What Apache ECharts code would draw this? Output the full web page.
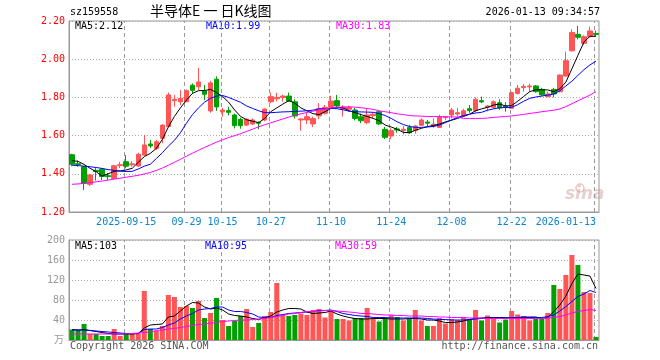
<!DOCTYPE html>
<html><head><meta charset="utf-8">
<script src="https://cdn.jsdelivr.net/npm/echarts@6/dist/echarts.min.js"></script>
<style>html,body{margin:0;padding:0;background:#fff}#c{width:660px;height:360px}</style>
</head><body><div id="c"></div>
<script>
const dates = ['2025-09-02','2025-09-03','2025-09-04','2025-09-05','2025-09-08','2025-09-09','2025-09-10','2025-09-11','2025-09-12',
'2025-09-15','2025-09-16','2025-09-17','2025-09-18','2025-09-19','2025-09-22','2025-09-23','2025-09-24','2025-09-25','2025-09-26',
'2025-09-29','2025-09-30','2025-10-09','2025-10-10','2025-10-13','2025-10-14','2025-10-15','2025-10-16','2025-10-17',
'2025-10-20','2025-10-21','2025-10-22','2025-10-23','2025-10-24','2025-10-27','2025-10-28','2025-10-29','2025-10-30','2025-10-31',
'2025-11-03','2025-11-04','2025-11-05','2025-11-06','2025-11-07','2025-11-10','2025-11-11','2025-11-12','2025-11-13','2025-11-14',
'2025-11-17','2025-11-18','2025-11-19','2025-11-20','2025-11-21','2025-11-24','2025-11-25','2025-11-26','2025-11-27','2025-11-28',
'2025-12-01','2025-12-02','2025-12-03','2025-12-04','2025-12-05','2025-12-08','2025-12-09','2025-12-10','2025-12-11','2025-12-12',
'2025-12-15','2025-12-16','2025-12-17','2025-12-18','2025-12-19','2025-12-22','2025-12-23','2025-12-24','2025-12-25','2025-12-26',
'2025-12-29','2025-12-30','2025-12-31','2026-01-05','2026-01-06','2026-01-07','2026-01-08','2026-01-09','2026-01-12','2026-01-13'];

const tickDates  = ['2025-09-15','2025-09-29','2025-10-15','2025-10-27','2025-11-10','2025-11-24','2025-12-08','2025-12-22','2026-01-13'];
const tickLabels = ['2025-09-15','09-29','10-15','10-27','11-10','11-24','12-08','12-22','2026-01-13'];

const opens = [1.50,1.453,1.437,1.345,1.418,1.424,1.39,1.376,1.443,1.463, 1.447,1.441,1.498,1.556,1.533,1.586,1.647,1.783,1.777,1.777,
1.864,1.856,1.833,1.729,1.895,1.725,1.731,1.708,1.685,1.655, 1.661,1.668,1.682,1.777,1.793,1.80,1.807,1.777,1.682,1.682,
1.661,1.703,1.717,1.748,1.783,1.741,1.738,1.734,1.699,1.668, 1.704,1.725,1.633,1.598,1.635,1.626,1.643,1.626,1.654,1.671,
1.65,1.643,1.694,1.708,1.713,1.705,1.741,1.731,1.783,1.748, 1.748,1.772,1.755,1.743,1.821,1.851,1.855,1.86,1.842,1.804,
1.842,1.83,1.912,2.044,2.13,2.083,2.118,2.135];
const closes = [1.45,1.448,1.35,1.394,1.412,1.386,1.385,1.442,1.448,1.44, 1.452,1.502,1.551,1.546,1.568,1.655,1.813,1.79,1.795,1.835,
1.837,1.881,1.816,1.876,1.75,1.734,1.722,1.652,1.652,1.685, 1.682,1.665,1.739,1.804,1.80,1.807,1.781,1.703,1.687,1.699,
1.689,1.741,1.748,1.781,1.755,1.748,1.748,1.69,1.678,1.708, 1.712,1.661,1.591,1.626,1.629,1.633,1.615,1.65,1.682,1.665,
1.66,1.699,1.698,1.734,1.72,1.73,1.731,1.79,1.776,1.755, 1.777,1.745,1.749,1.825,1.848,1.858,1.86,1.83,1.813,1.818,
1.818,1.917,1.992,2.14,2.115,2.118,2.148,2.13];
const lows = [1.44,1.437,1.315,1.336,1.365,1.367,1.367,1.37,1.43,1.429, 1.437,1.437,1.495,1.535,1.525,1.56,1.645,1.751,1.76,1.777,
1.82,1.839,1.786,1.72,1.73,1.699,1.706,1.638,1.636,1.65, 1.655,1.633,1.675,1.77,1.78,1.778,1.777,1.69,1.626,1.66,
1.645,1.686,1.71,1.74,1.75,1.70,1.725,1.68,1.665,1.66, 1.69,1.655,1.582,1.582,1.615,1.605,1.61,1.61,1.65,1.65,
1.64,1.64,1.68,1.69,1.70,1.70,1.72,1.72,1.77,1.727, 1.74,1.735,1.725,1.74,1.815,1.83,1.83,1.825,1.81,1.80,
1.80,1.825,1.91,2.039,2.104,2.075,2.115,2.12];
const highs = [1.505,1.47,1.44,1.40,1.43,1.429,1.405,1.447,1.463,1.498, 1.467,1.51,1.603,1.577,1.577,1.66,1.825,1.813,1.839,1.842,
1.873,1.955,1.865,1.887,1.91,1.746,1.751,1.715,1.694,1.69, 1.69,1.675,1.742,1.825,1.825,1.814,1.825,1.79,1.69,1.72,
1.70,1.77,1.76,1.809,1.813,1.76,1.757,1.745,1.715,1.74, 1.72,1.728,1.645,1.638,1.645,1.65,1.656,1.656,1.69,1.682,
1.69,1.71,1.70,1.745,1.745,1.74,1.76,1.80,1.804,1.76, 1.785,1.79,1.775,1.83,1.865,1.87,1.872,1.865,1.85,1.83,
1.85,1.92,2.04,2.157,2.174,2.125,2.17,2.15];

const ma5 = [1.469,1.465,1.449,1.429,1.411,1.388,1.40,1.413,1.415,1.42, 1.429,1.46,1.49,1.507,1.533,1.58,1.645,1.70,1.745,1.786,
1.821,1.835,1.836,1.842,1.825,1.805,1.775,1.734,1.70,1.683, 1.675,1.668,1.69,1.725,1.745,1.765,1.783,1.77,1.745,1.73,
1.715,1.71,1.725,1.742,1.748,1.745,1.73,1.72,1.71,1.70, 1.69,1.678,1.655,1.645,1.633,1.617,1.615,1.628,1.638,1.647,
1.653,1.66,1.672,1.68,1.69,1.70,1.712,1.73,1.74,1.748, 1.76,1.765,1.755,1.757,1.78,1.805,1.83,1.84,1.84,1.839,
1.83,1.845,1.88,1.95,2.02,2.09,2.12,2.12];
const ma10 = [1.445,1.443,1.44,1.437,1.433,1.428,1.422,1.418,1.414,1.412, 1.413,1.425,1.44,1.45,1.48,1.51,1.545,1.575,1.615,1.665,
1.71,1.745,1.775,1.795,1.807,1.81,1.80,1.787,1.774,1.755, 1.742,1.73,1.72,1.72,1.722,1.724,1.725,1.727,1.728,1.73,
1.733,1.74,1.741,1.742,1.741,1.735,1.728,1.725,1.724,1.723, 1.722,1.715,1.705,1.69,1.672,1.658,1.648,1.643,1.643,1.645,
1.648,1.655,1.668,1.682,1.695,1.705,1.712,1.718,1.722,1.733, 1.74,1.746,1.747,1.748,1.762,1.78,1.795,1.802,1.807,1.812,
1.818,1.835,1.86,1.885,1.915,1.945,1.97,1.99];
const ma30 = [1.345,1.347,1.35,1.354,1.358,1.362,1.367,1.372,1.377,1.382, 1.387,1.392,1.399,1.407,1.418,1.43,1.445,1.46,1.476,1.492,
1.508,1.523,1.538,1.552,1.566,1.578,1.59,1.6,1.61,1.622, 1.634,1.646,1.657,1.667,1.677,1.687,1.697,1.706,1.714,1.721,
1.728,1.735,1.74,1.745,1.748,1.75,1.75,1.749,1.746,1.742, 1.737,1.73,1.725,1.72,1.714,1.71,1.705,1.703,1.702,1.70,
1.70,1.699,1.699,1.698,1.697,1.69,1.69,1.69,1.69,1.692, 1.695,1.698,1.70,1.703,1.707,1.711,1.716,1.72,1.725,1.729,
1.733,1.74,1.752,1.767,1.782,1.797,1.812,1.83];

const volumes = [21,20,32,12,12,8,8,22,8,12, 12,13,98,22,18,28,90,86,66,68, 64,78,44,54,84,40,28,38,48,62,
26,34,48,56,114,50,48,50,53,50, 60,62,45,57,42,42,39,44,44,64, 42,37,42,50,46,39,42,60,39,28,
28,44,33,42,40,45,42,60,39,49, 45,35,41,58,51,48,39,42,42,54, 110,102,130,170,150,96,94,6];
const vma5 = [21,20,21,19,17,15,13,12,12,12, 12,13,24,30,31,32,46,48,58,68, 75,74,66,62,64,60,52,49,48,46,
43,41,45,48,56,60,63,63,62,56, 53,54,55,58,52,48,45,43,42,42, 43,43,43,42,42,42,43,43,42,40,
40,38,35,35,36,38,41,43,44,45, 45,45,45,43,45,46,46,46,43,45, 57,70,88,113,132,130,128,103];
const vma10 = [20,20,20,19,18,17,16,15,14,13, 13,13,21,22,22,25,30,34,42,48, 53,60,62,63,66,66,60,57,57,55,
52,46,45,45,49,51,53,54,55,56, 57,59,59,60,57,53,51,49,48,47, 45,45,45,44,44,44,44,44,44,43,
42,41,41,40,40,40,41,42,43,44, 44,44,44,45,45,45,45,45,45,47, 50,58,67,77,87,92,99,95];
const vma30 = [12,12,12,12,12,12,12,12,12,12, 13,14,15,16,19,20,22,23,25,27, 29,31,32,34,35,37,38,39,40,40,
41,42,43,45,47,49,52,53,55,57, 57,58,59,59,58,57,56,55,53,53, 52,51,50,50,49,49,48,48,48,47,
47,46,46,45,45,45,44,44,44,43, 43,43,43,43,43,43,43,43,43,44, 45,47,50,54,57,59,61,59];

const priceTicks = [1.20,1.40,1.60,1.80,2.00,2.20];
const volTicks = [0,40,80,120,160,200];
const headerCode = 'sz159558';
const headerTitle = '半导体E 一 日K线图';
const headerTime = '2026-01-13 09:34:57';
const priceLegend = ['MA5:2.12','MA10:1.99','MA30:1.83'];
const volLegend = ['MA5:103','MA10:95','MA30:59'];
const volUnit = '万';

const RED = '#ff5555', GREEN = '#00a000';
const MONO = '"DejaVu Sans Mono", "Liberation Mono", monospace';

const kdata = dates.map((d,i)=>[opens[i],closes[i],lows[i],highs[i]]);
const vdata = volumes.map((v,i)=>({value:v,itemStyle:{color: closes[i]>=opens[i]?RED:GREEN}}));
const tickSet = new Set(tickDates);
const labelOf = {}; tickDates.forEach((d,i)=>labelOf[d]=tickLabels[i]);
const isTick = (i,v)=>tickSet.has(v) || tickSet.has(dates[i]);
const tickIdx = tickDates.map(d=>dates.indexOf(d));

function guideSeries(xi, yBase){
  return {type:'custom',xAxisIndex:xi,yAxisIndex:xi,
    data:tickIdx.map(k=>[k,yBase]),encode:{x:0,y:1},
    renderItem:function(params,api){
      const p = api.coord([api.value(0),api.value(1)]);
      const x = Math.round(p[0]) - 1.5;
      const cs = params.coordSys;
      return {type:'line',shape:{x1:x,y1:cs.y+cs.height,x2:x,y2:cs.y},
        style:{stroke:'#999999',lineWidth:1,lineDash:[4,3]}};
    }};
}

const chart = echarts.init(document.getElementById('c'));
const gridL = 69, gridW = 530;
chart.setOption({
  animation:false,
  backgroundColor:'#ffffff',
  grid:[
    {left:gridL,top:21,width:gridW,height:191,show:true,borderColor:'#999',borderWidth:1},
    {left:gridL,top:240,width:gridW,height:100,show:true,borderColor:'#999',borderWidth:1}
  ],
  xAxis:[
    {type:'category',gridIndex:0,data:dates,boundaryGap:true,
     axisLine:{show:true,lineStyle:{color:'#999'}},axisTick:{show:false},splitLine:{show:false},
     axisLabel:{interval:isTick,formatter:v=>labelOf[v]||'',color:'#0a86d0',
       fontFamily:MONO,fontSize:10,margin:5,alignMaxLabel:'right',hideOverlap:false}},
    {type:'category',gridIndex:1,data:dates,boundaryGap:true,
     axisLine:{show:true,lineStyle:{color:'#999'}},axisTick:{show:false},axisLabel:{show:false},splitLine:{show:false}}
  ],
  yAxis:[
    {type:'value',gridIndex:0,min:priceTicks[0],max:priceTicks[priceTicks.length-1],interval:0.2,
     axisLine:{show:true,lineStyle:{color:'#999'}},axisTick:{show:false},
     axisLabel:{formatter:v=>v.toFixed(2),color:'#ff0000',fontFamily:MONO,fontSize:10,margin:4},
     splitLine:{show:true,lineStyle:{type:[1,2],color:'#aaaaaa'}}},
    {type:'value',gridIndex:1,min:volTicks[0],max:volTicks[volTicks.length-1],interval:40,
     axisLine:{show:true,lineStyle:{color:'#999'}},axisTick:{show:false},
     axisLabel:{formatter:v=>v===0?'':String(v),color:'#999999',fontFamily:MONO,fontSize:10,margin:4},
     splitLine:{show:true,lineStyle:{type:[1,2],color:'#aaaaaa'}}}
  ],
  series:[
    guideSeries(0, priceTicks[0]),
    guideSeries(1, volTicks[0]),
    {type:'candlestick',xAxisIndex:0,yAxisIndex:0,data:kdata,barWidth:5,
     itemStyle:{color:RED,color0:GREEN,borderColor:RED,borderColor0:GREEN,borderWidth:1}},
    {type:'line',xAxisIndex:0,yAxisIndex:0,data:ma5,symbol:'none',lineStyle:{color:'#000000',width:1}},
    {type:'line',xAxisIndex:0,yAxisIndex:0,data:ma10,symbol:'none',lineStyle:{color:'#0000ff',width:1}},
    {type:'line',xAxisIndex:0,yAxisIndex:0,data:ma30,symbol:'none',lineStyle:{color:'#ff00ff',width:1}},
    {type:'bar',xAxisIndex:1,yAxisIndex:1,data:vdata,barWidth:5},
    {type:'line',xAxisIndex:1,yAxisIndex:1,data:vma5,symbol:'none',lineStyle:{color:'#000000',width:1}},
    {type:'line',xAxisIndex:1,yAxisIndex:1,data:vma10,symbol:'none',lineStyle:{color:'#0000ff',width:1}},
    {type:'line',xAxisIndex:1,yAxisIndex:1,data:vma30,symbol:'none',lineStyle:{color:'#ff00ff',width:1}}
  ],
  graphic:[
    {type:'text',left:70,top:7,style:{text:headerCode,fill:'#000',font:'10px '+MONO}},
    {type:'text',left:150,top:4,style:{text:headerTitle,fill:'#000',font:'14px "Noto Sans CJK SC"'}},
    {type:'text',right:60,top:7,style:{text:headerTime,fill:'#000',font:'10px '+MONO}},
    {type:'text',left:75,top:21,style:{text:priceLegend[0],fill:'#000',font:'10px '+MONO}},
    {type:'text',left:206,top:21,style:{text:priceLegend[1],fill:'#0000ff',font:'10px '+MONO}},
    {type:'text',left:336,top:21,style:{text:priceLegend[2],fill:'#ff00ff',font:'10px '+MONO}},
    {type:'text',left:75,top:241,style:{text:volLegend[0],fill:'#000',font:'10px '+MONO}},
    {type:'text',left:205,top:241,style:{text:volLegend[1],fill:'#0000ff',font:'10px '+MONO}},
    {type:'text',left:335,top:241,style:{text:volLegend[2],fill:'#ff00ff',font:'10px '+MONO}},
    {type:'text',left:54,top:334,style:{text:volUnit,fill:'#999',font:'10px "Noto Sans CJK SC"'}},
    {type:'text',left:70,top:341,style:{text:'Copyright 2026 SINA.COM',fill:'#555',font:'10px '+MONO}},
    {type:'text',right:62,top:341,style:{text:'http://finance.sina.com.cn',fill:'#555',font:'10px '+MONO}},
    {type:'text',left:565,top:186,style:{text:'sina',fill:'rgba(200,150,150,0.45)',font:'italic bold 17px "DejaVu Sans"'}},
    {type:'circle',shape:{cx:580,cy:188,r:4},style:{fill:'none',stroke:'rgba(220,120,120,0.45)',lineWidth:1.5}}
  ]
});
</script></body></html>
